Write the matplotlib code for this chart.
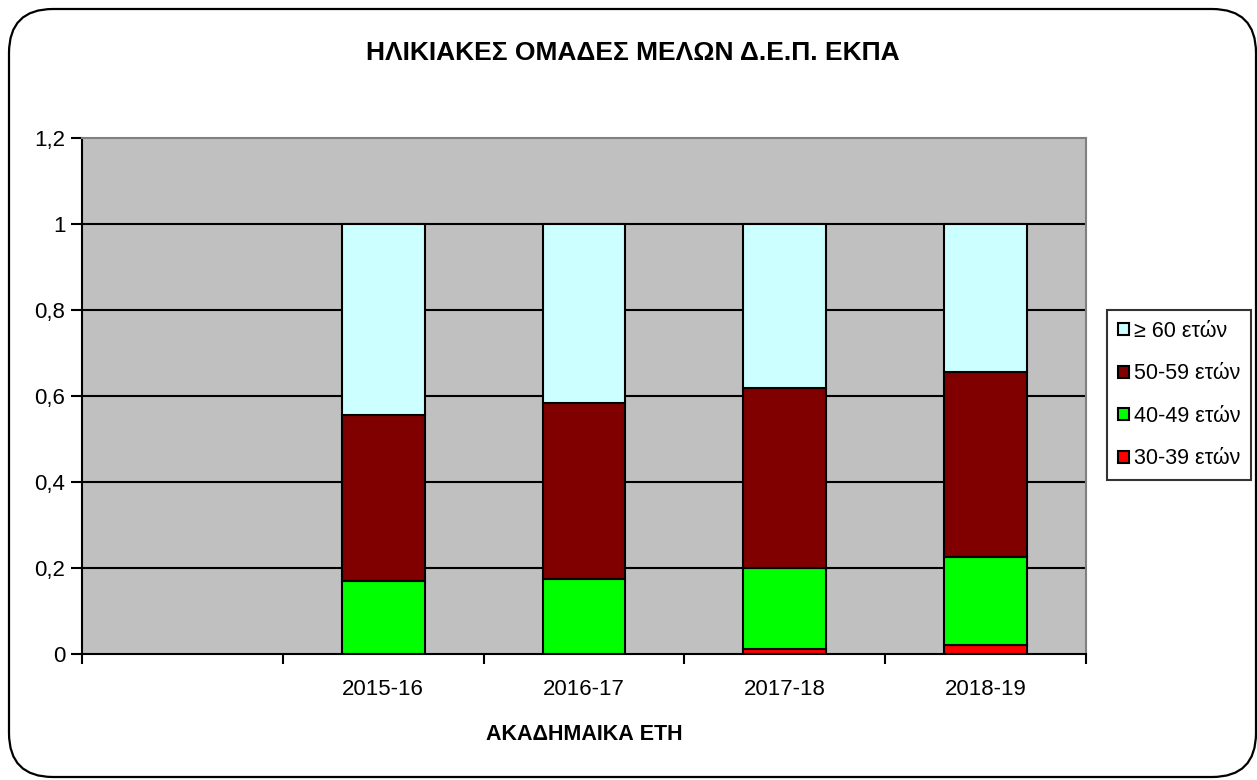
import matplotlib; matplotlib.use("Agg")
import matplotlib.pyplot as plt
import numpy as np
from matplotlib.patches import FancyBboxPatch
from matplotlib.ticker import FuncFormatter, FixedLocator

plt.rcParams["font.family"] = ["Liberation Sans", "DejaVu Sans"]

# data (shares of staff per age group)
categories = ["", "2015-16", "2016-17", "2017-18", "2018-19"]
years = ["2015-16", "2016-17", "2017-18", "2018-19"]
g30_39 = [0.0, 0.0, 0.011, 0.022]
g40_49 = [0.169, 0.174, 0.188, 0.203]
g50_59 = [0.387, 0.409, 0.419, 0.430]
g60 = [0.444, 0.417, 0.382, 0.345]
series_labels = ["30-39 ετών", "40-49 ετών", "50-59 ετών", "≥ 60 ετών"]
colors = ["#FF0000", "#00FF00", "#800000", "#CCFFFF"]

W, H = 1257, 780
fig = plt.figure(figsize=(W / 100, H / 100), dpi=100)
fig.patch.set_facecolor("white")

# rounded outer frame
frame = FancyBboxPatch((9 / W, 3 / H), 1247 / W, 768 / H,
                       boxstyle="round,pad=0,rounding_size=0.035",
                       transform=fig.transFigure, fill=False, ec="black", lw=1.6,
                       mutation_aspect=W / H)
fig.add_artist(frame)

ax = fig.add_axes([82 / W, 1 - 654 / H, (1086 - 82) / W, (654 - 138) / H])
ax.set_facecolor("#C0C0C0")

x = np.arange(len(categories))[1:]
bottom = np.zeros(len(years))
for vals, lab, c in zip([g30_39, g40_49, g50_59, g60], series_labels, colors):
    ax.bar(x, vals, width=0.413, bottom=bottom, color=c, edgecolor="black",
           lw=1.5, label=lab, zorder=3)
    bottom = bottom + np.array(vals)

ax.set_xlim(-0.5, len(categories) - 0.5)
ax.set_ylim(0, 1.2)
ax.set_yticks(np.arange(0, 1.21, 0.2))
ax.yaxis.set_major_formatter(FuncFormatter(lambda v, p: f"{v:.1f}".rstrip("0").rstrip(".").replace(".", ",")))
ax.set_xticks(np.arange(len(categories)))
ax.set_xticklabels(categories)
ax.xaxis.set_minor_locator(FixedLocator(np.arange(len(categories) + 1) - 0.5))
ax.tick_params(axis="x", which="major", length=0, pad=18, labelsize=16)
ax.tick_params(axis="x", which="minor", length=7, width=1.5, direction="out")
ax.tick_params(axis="y", length=8, width=1.5, pad=4, labelsize=16)

for yv in np.arange(0.2, 1.01, 0.2):
    ax.axhline(yv, color="black", lw=1.5, zorder=1)

ax.spines["left"].set_linewidth(1.5)
ax.spines["bottom"].set_linewidth(1.5)
ax.spines["bottom"].set_zorder(4)
for s in ("top", "right"):
    ax.spines[s].set_color("#808080")
    ax.spines[s].set_linewidth(1.5)

ax.set_xlabel("ΑΚΑΔΗΜΑΙΚΑ ΕΤΗ", fontsize=15.5, fontweight="bold", labelpad=17)
fig.text(633 / W, 1 - 53 / H, "ΗΛΙΚΙΑΚΕΣ ΟΜΑΔΕΣ ΜΕΛΩΝ Δ.Ε.Π. ΕΚΠΑ",
         ha="center", va="center", fontsize=19, fontweight="bold")

h, l = ax.get_legend_handles_labels()
leg = fig.legend(h[::-1], l[::-1], loc="upper left",
                 bbox_to_anchor=(1107 / W, 1 - 310 / H), bbox_transform=fig.transFigure,
                 borderaxespad=0, fontsize=15.5, frameon=True, fancybox=False,
                 handlelength=0.5, handleheight=0.5, handletextpad=0.25,
                 labelspacing=1.0, borderpad=0.5)
leg.get_frame().set_edgecolor("black")
leg.get_frame().set_linewidth(1.5)

fig.savefig("out.png", dpi=100)
